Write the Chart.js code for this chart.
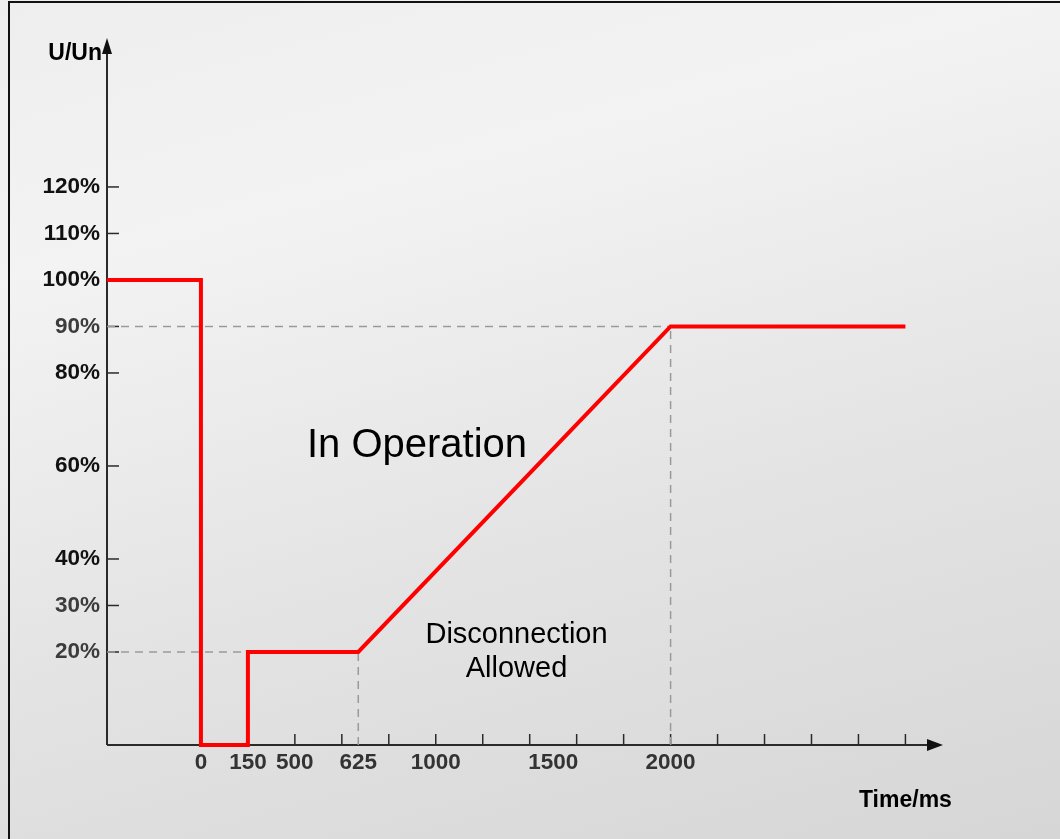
<!DOCTYPE html>
<html>
<head>
<meta charset="utf-8">
<script src="https://cdn.jsdelivr.net/npm/chart.js@4/dist/chart.umd.min.js"></script>
<style>
  html,body{margin:0;padding:0;}
  body{width:1060px;height:839px;overflow:hidden;
    background:linear-gradient(165deg,#eeeeee 0%,#f3f3f3 25%,#e4e4e4 60%,#d6d6d6 100%);}
  #frame{position:absolute;left:8px;top:1px;width:1060px;height:839px;
    border-left:2px solid #111;border-top:2px solid #111;}
  canvas{position:absolute;left:0;top:0;}
</style>
</head>
<body>
<div id="frame"></div>
<canvas id="chart" width="1060" height="839"></canvas>
<script>
/* ------------- DATA ------------- */
// x is in schematic "slots" (the time axis is not to scale)
const timeLabels  = ["0", "150", "500", "625", "1000", "1500", "2000"];
const labelSlots  = [2, 3, 4, 5.35, 7, 9.5, 12];
const tickSlots   = [4, 5, 6, 7, 8, 9, 10, 11, 12, 13, 14, 15, 16, 17];

const voltX = [0, 2, 2, 3, 3, 5.35, 12, 17];
const voltY = [100, 100, 0, 0, 20, 20, 90, 90];     // U/Un in %

const yTicks      = [20, 30, 40, 60, 80, 90, 100, 110, 120];
const yTickColors = ["#3c3c3c","#3c3c3c","#111","#111","#111","#3c3c3c","#111","#111","#111"];

// dashed guide lines: [x1,y1,x2,y2]
const guides = [
  [0, 90, 12, 90],
  [12, 0, 12, 90],
  [0, 20, 3, 20],
  [5.35, 0, 5.35, 20]
];

/* ------------- CHART ------------- */
const FONT = "'Liberation Sans', Arial, sans-serif";

const guideSets = guides.map(g => ({
  data: [{x: g[0], y: g[1]}, {x: g[2], y: g[3]}],
  borderColor: "#9a9a9a",
  borderWidth: 1.5,
  borderDash: [8, 6],
  pointRadius: 0,
  fill: false,
  order: 2
}));

const axesPlugin = {
  id: "axes",
  beforeDatasetsDraw(chart){
    const ctx = chart.ctx, xs = chart.scales.x, ys = chart.scales.y;
    const x0 = xs.getPixelForValue(0), y0 = ys.getPixelForValue(0);
    const xEnd = xs.right, yTop = ys.top;
    ctx.save();
    ctx.strokeStyle = "#2a2a2a";
    ctx.fillStyle = "#111";
    ctx.lineWidth = 2;
    // y axis
    ctx.beginPath(); ctx.moveTo(x0, y0); ctx.lineTo(x0, yTop + 10); ctx.stroke();
    ctx.beginPath(); ctx.moveTo(x0, yTop - 2); ctx.lineTo(x0 - 5, yTop + 14); ctx.lineTo(x0 + 5, yTop + 14); ctx.closePath(); ctx.fill();
    // x axis
    ctx.beginPath(); ctx.moveTo(x0, y0); ctx.lineTo(xEnd - 10, y0); ctx.stroke();
    ctx.beginPath(); ctx.moveTo(xEnd, y0); ctx.lineTo(xEnd - 16, y0 - 6); ctx.lineTo(xEnd - 16, y0 + 6); ctx.closePath(); ctx.fill();
    // tick marks
    ctx.lineWidth = 1.5;
    yTicks.forEach(v => {
      const p = ys.getPixelForValue(v);
      ctx.beginPath(); ctx.moveTo(x0, p); ctx.lineTo(x0 + 12, p); ctx.stroke();
    });
    tickSlots.forEach(v => {
      const p = xs.getPixelForValue(v);
      ctx.beginPath(); ctx.moveTo(p, y0); ctx.lineTo(p, y0 - 11); ctx.stroke();
    });
    ctx.restore();
  },
  afterDatasetsDraw(chart){
    const ctx = chart.ctx, xs = chart.scales.x, ys = chart.scales.y;
    const x0 = xs.getPixelForValue(0);
    ctx.save();
    ctx.fillStyle = "#000";
    ctx.textBaseline = "middle";
    ctx.font = "bold 23px " + FONT;
    ctx.textAlign = "right";
    ctx.fillText("U/Un", x0 - 5, ys.top + 14);
    ctx.textAlign = "center";
    ctx.fillText("Time/ms", xs.getPixelForValue(17), ys.bottom + 56);
    ctx.font = "40px " + FONT;
    ctx.fillText("In Operation", xs.getPixelForValue(6.6), ys.getPixelForValue(64.2));
    ctx.font = "29px " + FONT;
    ctx.fillText("Disconnection", xs.getPixelForValue(8.72), ys.getPixelForValue(23.7));
    ctx.fillText("Allowed", xs.getPixelForValue(8.72), ys.getPixelForValue(16.4));
    ctx.restore();
  }
};

new Chart(document.getElementById("chart"), {
  type: "line",
  data: {
    datasets: [
      {
        data: voltX.map((x, i) => ({x, y: voltY[i]})),
        borderColor: "#ff0000",
        borderWidth: 4,
        pointRadius: 0,
        fill: false,
        tension: 0,
        clip: false,
        order: 1
      },
      ...guideSets
    ]
  },
  options: {
    responsive: false,
    animation: false,
    events: [],
    layout: {padding: {left: 0, right: 117, top: 40, bottom: 0}},
    plugins: {legend: {display: false}, tooltip: {enabled: false}},
    scales: {
      x: {
        type: "linear", min: 0, max: 17.8,
        grid: {display: false, drawTicks: false},
        border: {display: false},
        afterFit: s => { s.height = 94; },
        afterBuildTicks: s => { s.ticks = labelSlots.map(v => ({value: v})); },
        ticks: {
          autoSkip: false, maxRotation: 0, padding: 4,
          color: "#333",
          font: {family: FONT, size: 22.5, weight: "bold"},
          callback: (v, i) => timeLabels[i]
        }
      },
      y: {
        type: "linear", min: 0, max: 151.6,
        grid: {display: false, drawTicks: false},
        border: {display: false},
        afterFit: s => { s.width = 107; },
        afterBuildTicks: s => { s.ticks = yTicks.map(v => ({value: v})); },
        ticks: {
          autoSkip: false, padding: 7,
          color: c => yTickColors[c.index],
          font: {family: FONT, size: 22.5, weight: "bold"},
          callback: v => v + "%"
        }
      }
    }
  },
  plugins: [axesPlugin]
});
</script>
</body>
</html>
